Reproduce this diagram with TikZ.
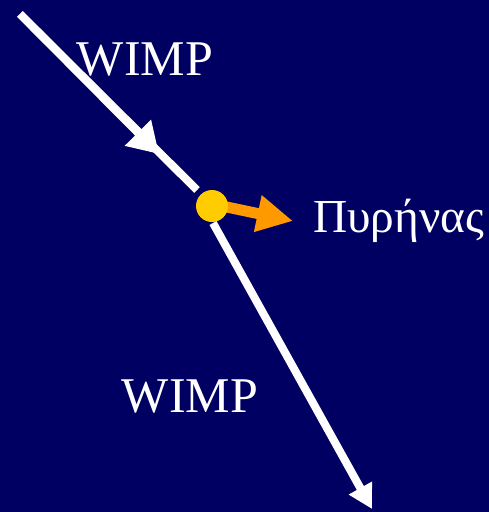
\documentclass[tikz,border=0pt]{standalone}
\usepackage{fontspec}
\setmainfont{Liberation Serif}
\usetikzlibrary{arrows.meta}
\definecolor{navy}{RGB}{0,0,98}
\definecolor{nucyellow}{RGB}{255,204,0}
\definecolor{nucorange}{RGB}{255,153,0}
\begin{document}
\begin{tikzpicture}[x=1pt,y=-1pt,
  track/.style={draw=white,line width=8pt},
  lbl/.style={text=white,font=\fontsize{50}{50}\selectfont,inner sep=0pt}]
\fill[navy] (0,0) rectangle (489,512);
\useasboundingbox (0,0) rectangle (489,512);
\coordinate (s) at (20,14);
\coordinate (m) at (159,154);
\coordinate (e1) at (197,190);
\coordinate (s2) at (213,223);
\coordinate (e2) at (372,509);
\coordinate (o1) at (222,206);
\coordinate (o2) at (293,221);
\draw[draw=nucorange,line width=11pt,-{Triangle[length=36pt,width=35pt]}] (o1) -- (o2);
\node[circle,fill=nucyellow,minimum size=32pt,inner sep=0pt] (nuc) at (212,206) {};
\draw[track] (s) -- (e1);
\draw[track,-{Triangle[length=30pt,width=35pt]}] (s) -- (m);
\draw[track,-{Triangle[length=24pt,width=25pt]}] (s2) -- (e2);
\node[lbl,anchor=base] (w1) at (145,75) {WIMP};
\node[lbl,anchor=base] (w2) at (190,412) {WIMP};
\node[lbl,anchor=base west,font=\fontsize{43}{43}\selectfont] (p) at (313,232) {\resizebox{171pt}{!}{Πυρήνας}};
\end{tikzpicture}
\end{document}
